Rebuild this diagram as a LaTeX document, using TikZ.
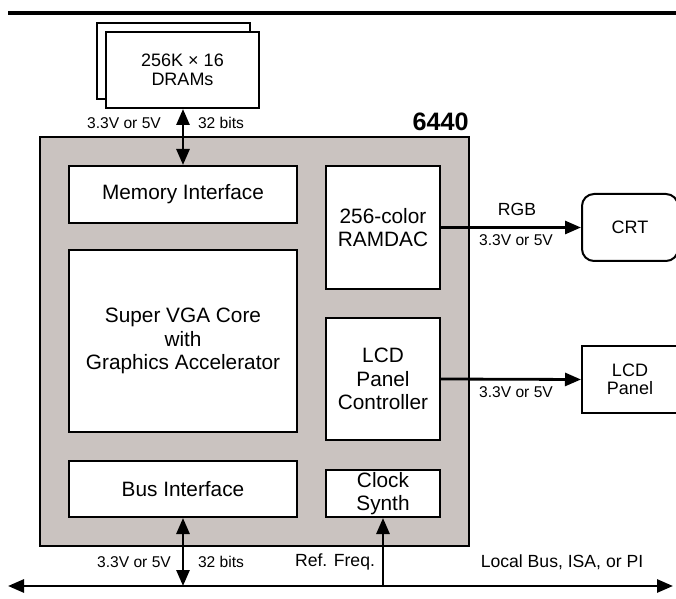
\documentclass[tikz,border=0pt]{standalone}
\usepackage{fontspec}
\setmainfont{Liberation Sans}
\usetikzlibrary{arrows.meta}

\definecolor{chipgray}{RGB}{202,195,192}

\tikzset{
    >={Triangle[length=8pt,width=6.5pt]},
    blk/.style={draw, line width=1pt, fill=white, align=center, inner sep=0pt,
        font=\fontsize{10.4}{11.8}\selectfont},
    ext/.style={draw, line width=1pt, fill=white, align=center, inner sep=0pt,
        font=\fontsize{9}{9.2}\selectfont},
    lbl/.style={inner sep=0pt, font=\fontsize{7.8}{9}\selectfont},
    mid/.style={inner sep=0pt, font=\fontsize{8.8}{10}\selectfont},
    wire/.style={line width=1.4pt},
}

\begin{document}
\begin{tikzpicture}[x=0.5pt, y=-0.5pt]
    \clip (0,0) rectangle (676,599);
    \draw[line width=2pt] (8,13) -- (676,13);

    % chip and its blocks
    \node[draw, line width=1pt, fill=chipgray, inner sep=0pt,
        minimum width=214.5pt, minimum height=204.5pt] (chip) at (254.5,341.5) {};
    \node[font=\fontsize{12.6}{14}\selectfont\bfseries, inner sep=0pt, anchor=east]
        (chipname) at (469,122) {6440};

    \node[blk, minimum width=114pt, minimum height=28.5pt] (memif) at (183,194.5) {Memory Interface};
    \node[blk, minimum width=114pt, minimum height=91pt] (vga) at (183,341)
        {Super VGA Core\\with\\Graphics Accelerator};
    \node[blk, minimum width=114pt, minimum height=28pt] (busif) at (183,489) {Bus Interface};
    \node[blk, minimum width=57pt, minimum height=61.5pt] (ramdac) at (383,227.5) {256-color\\RAMDAC};
    \node[blk, minimum width=57pt, minimum height=61pt] (lcdc) at (383,379) {LCD\\Panel\\Controller};
    \node[blk, minimum width=57pt, minimum height=23.5pt] (clk) at (383,493.5) {Clock\\Synth};

    % outside parts
    \node[ext, minimum width=76.5pt, minimum height=38pt] (dramb) at (173.5,61) {};
    \node[ext, minimum width=76.5pt, minimum height=38pt] (dram) at (182.5,70) {256K × 16\\DRAMs};
    \node[ext, rounded corners=6pt, minimum width=48pt, minimum height=33.5pt] (crt) at (630,227.5) {CRT};
    \node[ext, minimum width=48pt, minimum height=33.5pt] (panel) at (630,379.5) {LCD\\Panel};

    \coordinate (busw) at (8,586);
    \coordinate (buse) at (673,586);

    % connectors
    \draw[wire,<->] (memif.north) -- (memif.north |- dram.south);
    \draw[wire,->] (ramdac.east) -- (crt.west);
    \draw[wire,->] (lcdc.east) -- (panel.west);
    \draw[wire,<->] (busw) -- (buse);
    \draw[wire,<->] (busif.south) -- (busif.south |- busw);
    \draw[wire,->] (clk.south |- busw) -- (clk.south);

    % labels
    \node[lbl] (memv) at (124,123) {3.3V or 5V};
    \node[lbl] (membits) at (221,123) {32 bits};
    \node[mid] (rgb) at (517,209) {RGB};
    \node[lbl] (crtv) at (516,240) {3.3V or 5V};
    \node[lbl] (lcdv) at (516,392) {3.3V or 5V};
    \node[lbl] (busv) at (134,562) {3.3V or 5V};
    \node[lbl] (busbits) at (221,562) {32 bits};
    \node[mid] (reffreq) at (335,562) {Ref. Freq.};
    \node[mid] (localbus) at (562,562) {Local Bus, ISA, or PI};
\end{tikzpicture}
\end{document}
